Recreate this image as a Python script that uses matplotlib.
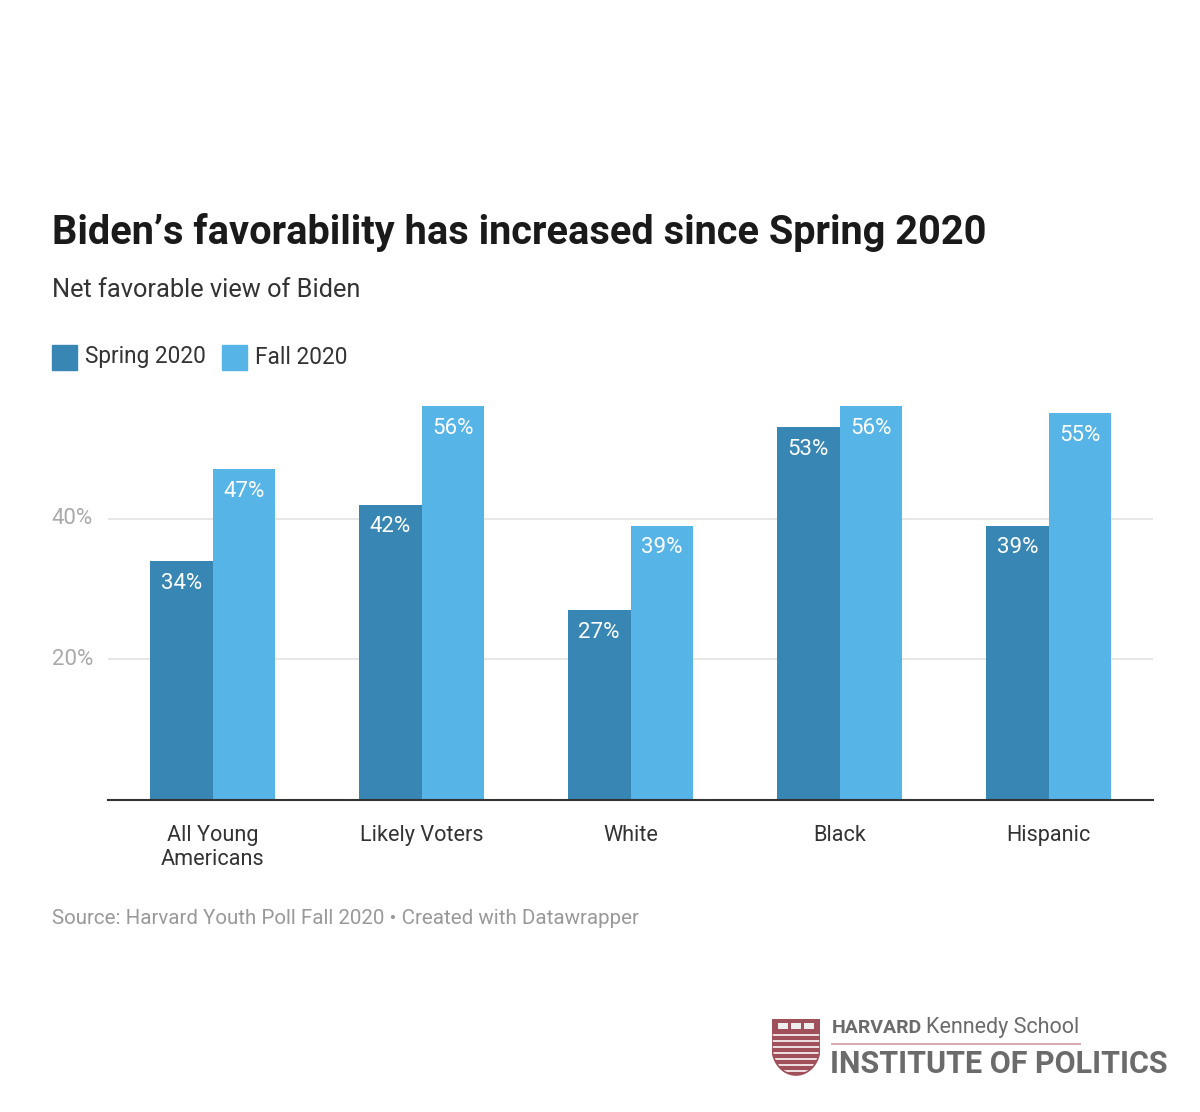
import numpy as np
import matplotlib.pyplot as plt
from matplotlib.patches import Polygon, Rectangle

plt.rcParams['font.family'] = ['Roboto', 'DejaVu Sans']

categories = ['All Young\nAmericans', 'Likely Voters', 'White', 'Black', 'Hispanic']
spring = [34, 42, 27, 53, 39]
fall = [47, 56, 39, 56, 55]
series_names = ['Spring 2020', 'Fall 2020']
yticks = [20, 40]

c_spring = '#3886b4'
c_fall = '#56b4e7'

fig = plt.figure(figsize=(12, 11.12), dpi=100)
ax = fig.add_axes([0.09, 0.2806, 0.871, 0.3794])

x = np.arange(len(categories))
w = 0.3
b1 = ax.bar(x - w/2, spring, w, color=c_spring, zorder=2)
b2 = ax.bar(x + w/2, fall, w, color=c_fall, zorder=2)

for bars, vals in [(b1, spring), (b2, fall)]:
    for r, v in zip(bars, vals):
        ax.annotate(f'{v}%', (r.get_x() + r.get_width()/2, v), xytext=(0, -16),
                    textcoords='offset points', ha='center', va='center',
                    color='white', fontsize=16)

ax.set_xlim(-0.5, 4.5)
ax.set_ylim(0, 60)
ax.set_yticks(yticks)
ax.set_yticklabels([])
for t in yticks:
    ax.axhline(t, color='#e3e3e3', lw=1.2, zorder=1)
    ax.text(-0.77, t, f'{t}%', ha='left', va='center', fontsize=16, color='#aaaaaa')
ax.tick_params(length=0)
ax.set_xticks(x)
ax.set_xticklabels(categories, fontsize=15.6, color='#333333', linespacing=1.22)
ax.tick_params(axis='x', pad=18)
for s in ['top', 'right', 'left']:
    ax.spines[s].set_visible(False)
ax.spines['bottom'].set_color('#333333')
ax.spines['bottom'].set_linewidth(1.5)

# titles
fig.text(52/1200, 1 - 233/1112, 'Biden\u2019s favorability has increased since Spring 2020',
         fontsize=28.6, fontweight='bold', color='#1a1a1a', va='center')
fig.text(52/1200, 1 - 290/1112, 'Net favorable view of Biden', fontsize=18.3,
         color='#333333', va='center')

# legend
for i, (name, c) in enumerate(zip(series_names, [c_spring, c_fall])):
    x0 = [52, 222][i]
    fig.patches.append(Rectangle((x0/1200, 1 - 370/1112), 25/1200, 25/1112,
                                 transform=fig.transFigure, color=c))
    fig.text((x0 + 33)/1200, 1 - 357/1112, name, fontsize=16.3, color='#333333', va='center')

fig.text(52/1200, 1 - 918/1112, 'Source: Harvard Youth Poll Fall 2020 \u2022 Created with Datawrapper',
         fontsize=14.8, color='#999999', va='center')

# logo
lax = fig.add_axes([772/1200, 1 - 1077/1112, 48/1200, 58/1112])
lax.set_xlim(0, 48)
lax.set_ylim(0, 58)
lax.axis('off')
t_ = np.linspace(0, np.pi/2, 20)
shield = [(0, 58), (48, 58), (48, 30)] + \
         [(24 + 24*np.cos(a), 30 - 28*np.sin(a)) for a in t_] + \
         [(24 - 24*np.cos(a), 30 - 28*np.sin(a)) for a in t_][::-1] + [(0, 30)]
sh = Polygon(shield, closed=True, facecolor='white', edgecolor='#a0505a', lw=1.2)
lax.add_patch(sh)
lax.add_patch(Rectangle((0, 44), 48, 14, color='#a0505a', clip_path=sh))
for yy in np.arange(2, 44, 6):
    lax.add_patch(Rectangle((0, yy), 48, 3.2, color='#a0505a', clip_path=sh))
for xx in [6, 19, 32]:
    lax.add_patch(Rectangle((xx, 48), 10, 6, facecolor='#eeeeee', edgecolor='none'))

fig.text(832/1200, 1 - 1028/1112, 'HARVARD', fontsize=14, fontweight='bold',
         color='#6b6b6b', va='center')
fig.text(926/1200, 1 - 1028/1112, 'Kennedy School', fontsize=15.5,
         color='#6b6b6b', va='center')
fig.lines.append(plt.Line2D([832/1200, 1080/1200], [1 - 1044/1112] * 2,
                            transform=fig.transFigure, color='#d8a0a8', lw=1.3))
fig.text(830/1200, 1 - 1064/1112, 'INSTITUTE OF POLITICS', fontsize=22,
         fontweight='bold', color='#6b6b6b', va='center')

fig.savefig('out.png', dpi=100, facecolor='white')
